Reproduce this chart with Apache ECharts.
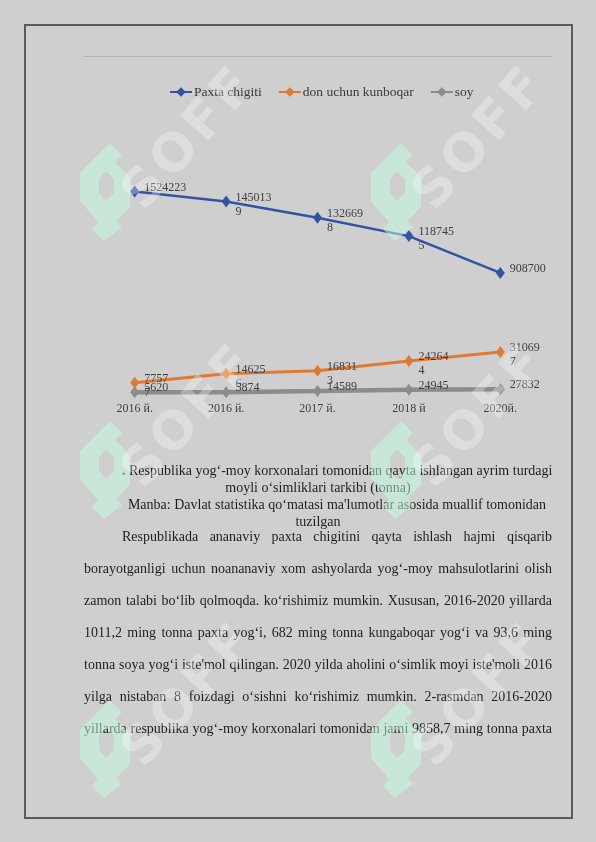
<!DOCTYPE html>
<html><head><meta charset="utf-8">
<script src="https://cdn.jsdelivr.net/npm/echarts@6/dist/echarts.min.js"></script>
<style>
html,body{margin:0;padding:0;background:#cfcfcf;width:596px;height:842px;overflow:hidden}
#chart{position:absolute;left:0;top:0;width:596px;height:842px}
#frame{position:absolute;left:24px;top:24px;width:545px;height:791px;border:2px solid #5b5b5b}
.cap{position:absolute;left:84px;width:468px;font-family:'Liberation Serif',serif;font-size:14px;color:#1e1e1e;line-height:17px;text-align:center}
.cap div{white-space:nowrap}
.body{position:absolute;left:84px;top:521px;width:468px;font-family:'Liberation Serif',serif;font-size:14px;color:#1e1e1e;line-height:32px}
.body div{text-align:justify;text-align-last:justify;white-space:nowrap;height:32px}
#wm{position:absolute;left:0;top:0;width:596px;height:842px;pointer-events:none}
</style></head>
<body>
<div id="chart"></div>
<div id="frame"></div>
<div class="cap" style="top:462px">
<div style="padding-left:38px"><b>.</b> Respublika yog‘-moy korxonalari tomonidan qayta ishlangan ayrim turdagi</div>
<div>moyli o‘simliklari tarkibi (tonna)</div>
<div style="padding-left:38px">Manba: Davlat statistika qo‘matasi ma'lumotlar asosida muallif tomonidan</div>
<div>tuzilgan</div>
</div>
<div class="body">
<div style="padding-left:38px">Respublikada ananaviy paxta chigitini qayta ishlash hajmi qisqarib</div>
<div>borayotganligi uchun noananaviy xom ashyolarda yog‘-moy mahsulotlarini olish</div>
<div>zamon talabi bo‘lib qolmoqda. ko‘rishimiz mumkin. Xususan, 2016-2020 yillarda</div>
<div>1011,2 ming tonna paxta yog‘i, 682 ming tonna kungaboqar yog‘i va 93,6 ming</div>
<div>tonna soya yog‘i iste'mol qilingan. 2020 yilda aholini o‘simlik moyi iste'moli 2016</div>
<div>yilga nistaban 8 foizdagi o‘sishni ko‘rishimiz mumkin. 2-rasmdan 2016-2020</div>
<div>yillarda respublika yog‘-moy korxonalari tomonidan jami 9858,7 ming tonna paxta</div>
</div>
<svg id="wm" width="596" height="842" xmlns="http://www.w3.org/2000/svg"></svg>
<script>
const categories = ['2016 й.', '2016 й.', '2017 й.', '2018 й', '2020й.'];
const seriesNames = ['Paxta chigiti', 'don uchun kunboqar', 'soy'];
const paxta = [1524223, 1450139, 1326698, 1187455, 908700];
const kunboqar = [77577, 146256, 168313, 242644, 310697];
const soy = [5620, 5874, 14589, 24945, 27832];

const colors = ['#3453a3', '#e07a33', '#8c8c8c'];
const labelBase = {
  show: true, position: 'right', distance: 5,
  verticalAlign: 'top', offset: [0, -11],
  fontFamily: 'Liberation Serif', fontSize: 12, color: '#404040',
  lineHeight: 14, overflow: 'breakAll'
};
function mk(vals, firstWidth) {
  return vals.map((v, i) => i === 0 ? {value: v, label: {width: firstWidth}} : v);
}
const chart = echarts.init(document.getElementById('chart'), null, {renderer: 'canvas'});
chart.setOption({
  animation: false,
  backgroundColor: 'transparent',
  color: colors,
  legend: {
    left: 164, top: 80, itemWidth: 22, itemHeight: 12, itemGap: 16,
    textStyle: {fontFamily: 'Liberation Serif', fontSize: 13.5, color: '#3a3a3a', padding: [0, 0, 0, -3]},
    data: seriesNames
  },
  grid: {left: 89, right: 50, top: 181.6, bottom: 449, containLabel: false},
  xAxis: {
    type: 'category', data: categories,
    axisLine: {show: false}, axisTick: {show: false},
    axisLabel: {margin: 10, fontFamily: 'Liberation Serif', fontSize: 12, color: '#404040'}
  },
  yAxis: {type: 'value', min: 0, max: 1600000, show: false, splitLine: {show: false}},
  graphic: [{
    type: 'line', shape: {x1: 84, y1: 56.5, x2: 552, y2: 56.5},
    style: {stroke: '#b3b3b3', lineWidth: 1}
  }],
  series: [
    {name: seriesNames[0], type: 'line', data: mk(paxta, 50),
     symbol: 'diamond', symbolSize: [9, 12],
     lineStyle: {width: 2.5, color: colors[0]}, itemStyle: {color: colors[0]},
     label: Object.assign({}, labelBase, {width: 40}), z: 3},
    {name: seriesNames[1], type: 'line', data: mk(kunboqar, 26),
     symbol: 'diamond', symbolSize: [9, 12],
     lineStyle: {width: 3, color: colors[1]}, itemStyle: {color: colors[1]},
     label: Object.assign({}, labelBase, {width: 33}), z: 3},
    {name: seriesNames[2], type: 'line', data: mk(soy, 40),
     symbol: 'diamond', symbolSize: [9, 12],
     lineStyle: {width: 4.5, color: colors[2]}, itemStyle: {color: colors[2]},
     label: Object.assign({}, labelBase, {width: 40}), z: 2}
  ]
});

// watermark overlay
const svg = document.getElementById('wm');
const NS = 'http://www.w3.org/2000/svg';
const logoPath = 'M32,0 L44,12 L37,19 L52,34 L52,64 L38,78 L44,84 L26,98 L14,86 L20,79 L2,58 L2,30 Z M28,28 L36,36 L36,50 L28,58 L21,50 L21,36 Z';
const rows = [0, 278, 557];
const cols = [0, 291];
rows.forEach(dy => cols.forEach(dx => {
  const p = document.createElementNS(NS, 'path');
  p.setAttribute('d', logoPath);
  p.setAttribute('fill-rule', 'evenodd');
  p.setAttribute('fill', 'rgb(195,255,225)');
  p.setAttribute('fill-opacity', '0.5');
  p.setAttribute('transform', `translate(${78 + dx},${143 + dy})`);
  svg.appendChild(p);
  const t = document.createElementNS(NS, 'text');
  const cx = 188 + dx, cy = 136 + dy;
  t.setAttribute('x', cx); t.setAttribute('y', cy);
  t.setAttribute('text-anchor', 'middle');
  t.setAttribute('dominant-baseline', 'central');
  t.setAttribute('font-family', 'DejaVu Sans');
  t.setAttribute('font-weight', 'bold');
  t.setAttribute('font-size', '52');
  t.setAttribute('letter-spacing', '5');
  t.setAttribute('fill', '#ffffff');
  t.setAttribute('fill-opacity', '0.3');
  t.setAttribute('transform', `rotate(-48 ${cx} ${cy})`);
  t.textContent = 'SOFF';
  svg.appendChild(t);
}));
</script>
</body></html>
